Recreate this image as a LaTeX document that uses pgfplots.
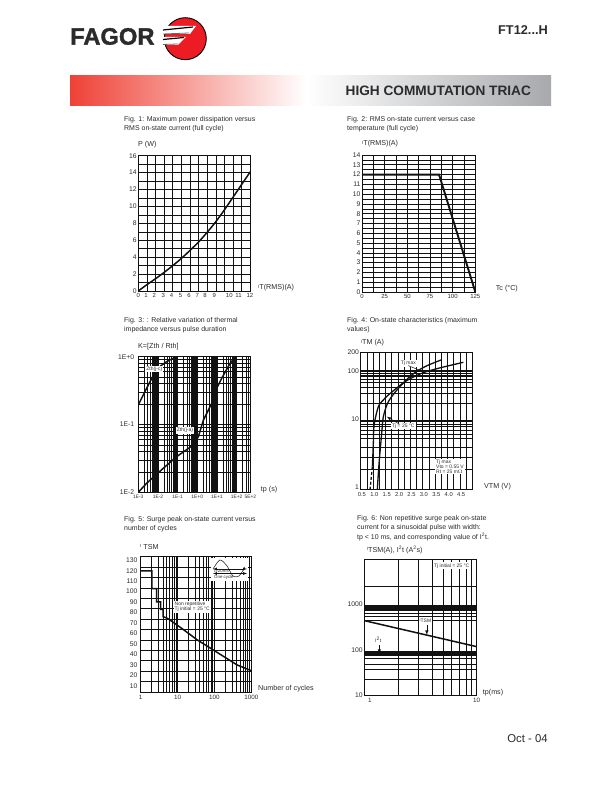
\documentclass[border=0pt]{standalone}
\usepackage{fontspec}
\usepackage{pgfplots}
\pgfplotsset{compat=1.18}
\setmainfont{Liberation Sans}
\newfontfamily\logofont{Liberation Sans}[BoldFeatures={FakeBold=1.6}]
\definecolor{txt}{HTML}{2B2B2B}
\definecolor{ln}{HTML}{111111}
\definecolor{fagorred}{HTML}{ED1C24}
\definecolor{bannerred}{HTML}{EF4136}
\definecolor{bannergray}{HTML}{A7A9AC}
\newcommand{\fs}[1]{\fontsize{#1}{#1}\selectfont}
\newcommand{\smallI}{{\fs{4.6}\raisebox{1.8pt}{I}}}

\tikzset{boxlabel/.style={fill=white,inner sep=1bp,font=\fs{5},text=txt,align=left}}
\pgfplotsset{
  chart/.style={
    scale only axis,
    anchor=south west,
    tick style={draw=none},
    axis line style={line width=0.9bp,ln},
    grid style={line width=0.6bp,ln},
    major grid style={line width=0.6bp,ln},
    minor grid style={line width=0.6bp,ln},
    xticklabel style={font=\fs{6},text=txt,inner sep=2.5bp},
    yticklabel style={font=\fs{6.8},text=txt,inner sep=1.5bp},
    /pgf/number format/assume math mode=true,
    /pgf/number format/1000 sep={},
    minor tick length=0pt,
    major tick length=0pt,
  },
  curve/.style={line width=1.5bp,ln,no markers},
}

\begin{document}
\begin{tikzpicture}
\useasboundingbox (0,0) rectangle (612bp,792bp);

% Fig 1
\begin{axis}[chart,at={(138.3bp,501bp)},width=112bp,height=135.3bp,
  xmin=0,xmax=13,ymin=0,ymax=16,
  ytick={0,2,...,16},minor ytick={1,3,...,15},
  xtick={0,0.89,1.85,2.9,3.87,4.9,5.88,6.85,7.74,8.82,10.56,11.64,12.96},
  xticklabels={0,1,2,3,4,5,6,7,8,9,10,11,12},
  extra x ticks={1,2,3,4,5,6,7,8,9,10,11,12},extra x tick labels={},
  extra x tick style={grid=major},
  yminorgrids,ymajorgrids]
\addplot[curve,smooth] coordinates {(0,0) (1,0.75) (2,1.45) (3,2.2) (4,3.0) (5,3.85) (6,4.8) (7,5.8) (8,6.95) (9,8.2) (10,9.6) (11,11.1) (12,12.6) (13,14.1)};
\end{axis}

% Fig 2
\begin{axis}[chart,at={(362bp,500bp)},width=113.3bp,height=137bp,
  xmin=0,xmax=125,ymin=0,ymax=14,
  xtick={0,25,...,125},minor xtick={12.5,37.5,...,112.5},
  ytick={0,1,...,14},minor ytick={0.5,1.5,...,13.5},
  grid=both]
\addplot[ln,line width=1.9bp,no markers] coordinates {(0,12) (85,12) (125,0)};
\end{axis}

% Fig 3
\begin{axis}[chart,at={(138.3bp,299.7bp)},width=112bp,height=135.6bp,
  xmode=log,ymode=log,xmin=0.001,xmax=500,ymin=0.01,ymax=1,
  log basis x=10,
  xtick={0.001,0.01,0.1,1,10,100,500},
  xticklabels={1E-3,1E-2,1E-1,1E+0,1E+1,1E+2,5E+2},
  xticklabel style={font=\fs{4.9}},
  minor xtick={0.002,0.003,0.004,0.005,0.02,0.03,0.04,0.05,0.06,0.2,0.3,0.4,2,3,4,5,20,30,40,50,60,200,300,400},
  ytick={0.01,0.1,1},yticklabels={1E-2,1E-1,1E+0},
  yticklabel style={inner sep=4bp},
  extra x ticks={0.006,0.0065,0.007,0.0075,0.008,0.0085,0.009,0.0095,0.07,0.075,0.08,0.085,0.09,0.095,0.5,0.55,0.6,0.65,0.7,0.75,0.8,0.85,0.9,0.95,6,6.5,7,7.5,8,8.5,9,9.5,70,75,80,85,90,95},
  extra x tick labels={},
  extra x tick style={grid=major,major grid style={line width=1.2bp,ln}},
  grid=both]
\addplot[curve,smooth] coordinates {(0.001,0.194) (0.00265,0.341) (0.0086,0.636) (0.0277,0.844) (0.09,1)};
\addplot[curve] coordinates {(0.001,0.01) (0.00265,0.0136) (0.0187,0.0226) (0.09,0.0336) (0.632,0.0499) (1.14,0.0662) (2.05,0.116) (5.43,0.205) (8.04,0.305) (17.5,0.48) (46.7,0.798) (84,0.977) (100,1)};
\node[boxlabel] at (axis cs:0.0065,0.658) {Zth(j-c)};
\node[boxlabel] at (axis cs:0.237,0.081) {Zth(j-a)};
\end{axis}

% Fig 4: the printed log scale is not uniform, so y is height above the bottom edge
\begin{axis}[chart,at={(360.7bp,302.3bp)},width=111.6bp,height=137.4bp,
  xmin=0.5,xmax=5,ymin=0,ymax=412,
  xtick={0.5,1,...,4.5},xticklabels={0.5,1.0,1.5,2.0,2.5,3.0,3.5,4.0,4.5},
  minor xtick={0.75,1.25,...,4.75},
  xticklabel style={font=\fs{5.8},xshift=1.2bp},
  ytick={9,211,356,412},yticklabels={1,10,100,200},
  extra y ticks={61,97,127,154,167,179,189,197,204,209,259,289,307,321,331,339,344,349,354,359},
  extra y tick labels={},extra y tick style={grid=major},
  xmajorgrids,xminorgrids]
\addplot[ln,line width=1.3bp,no markers,densely dashed] coordinates {(0.876,0) (0.97,69)};
\addplot[ln,line width=1.3bp,no markers,smooth] coordinates {(0.97,69) (1.01,139) (1.04,194) (1.212,249) (1.414,269) (1.616,284) (2.288,324) (2.96,349) (3.63,364) (4.64,382)};
\addplot[ln,line width=1.3bp,no markers,smooth] coordinates {(1.17,0) (1.24,79) (1.347,169) (1.414,219) (1.616,264) (2.02,304) (2.556,344) (3.094,369) (3.74,389)};
\node[boxlabel] at (axis cs:2.42,379) {Tj max};
\node[boxlabel] at (axis cs:2.22,191) {Tj = 25 °C};
\node[boxlabel] at (axis cs:4.1,69) {Tj max\\Vto = 0.55 V\\Rt = 25 m$\Omega$};
\draw[ln,line width=0.5bp] (axis cs:2.42,372) -- (axis cs:2.85,359);
\draw[-latex,ln,line width=0.5bp] (axis cs:2.05,197) -- (axis cs:1.55,219);
\end{axis}

% Fig 5: grid lines do not fall on the printed labels, hence the two tick sets
\begin{axis}[chart,at={(140.7bp,100bp)},width=110.6bp,height=135.3bp,
  xmode=log,xmin=1,xmax=1000,ymin=4,ymax=133.4,
  xtick={1,10,100,1000},xticklabels={1,10,100,1000},
  xticklabel style={font=\fs{6.3}},
  ytick={10,20,...,130},
  yticklabel style={inner sep=3bp},
  extra y ticks={13.95,23.91,33.86,43.82,53.77,63.72,73.68,83.63,93.58,103.54,113.49,123.45},
  extra y tick labels={},extra y tick style={grid=major},
  xmajorgrids,xminorgrids]
\addplot[curve] coordinates {(1,119.8) (2,119.8) (2,102.9) (2.7,102.9) (2.7,90.1) (3.48,90.1) (3.48,83.1) (4.03,83.1) (4.03,76.1) (5.28,74.5) (8.88,69) (14.9,63.3) (34.3,53.8) (78.9,45.8) (181,37.8) (417,29.8) (1000,24.4)};
\node[boxlabel] at (axis cs:25,85.3) {Non repetitive\\Tj initial = 25 °C};
\end{axis}

% Fig 6
\begin{axis}[chart,at={(364.3bp,96.5bp)},width=112.4bp,height=136bp,
  xmode=log,ymode=log,xmin=1,xmax=10,ymin=10,ymax=9660,
  xtick={1,10},xticklabels={\raisebox{-4bp}{\hspace{11bp}1},10},
  xticklabel style={font=\fs{6.3}},
  ytick={10,100,1000},yticklabels={10,100,1000},
  extra y ticks={2438,967,920,875,832,790,727,635,537,439,95,89,84.5,81.7,79,76.4,73.9,65.7,48.5,36.5,22.8},
  extra y tick labels={},extra y tick style={grid=major,major grid style={line width=0.9bp,ln}},
  xmajorgrids,xminorgrids]
\addplot[curve] coordinates {(1,440) (10,118)};
\node[boxlabel] at (axis cs:5.99,7030) {Tj initial = 25 °C};
\node[boxlabel] at (axis cs:3.5,445) {{\fs{3.6}\raisebox{1pt}{I}}TSM};
\node[boxlabel] at (axis cs:1.33,171) {I\textsuperscript{2}t};
\draw[-latex,ln,line width=0.6bp] (axis cs:3.6,350) -- (axis cs:3.6,213);
\draw[-latex,ln,line width=0.6bp] (axis cs:1.36,129) -- (axis cs:1.36,81.7);
\end{axis}

% page furniture, in page pixels measured from the top left
\begin{scope}[x=1bp,y=-1bp,shift={(0,792bp)}]
  % header
  \shade[left color=bannerred,right color=white] (70,76) rectangle (306,106);
  \shade[left color=white,right color=bannergray] (306,76) rectangle (551,106);
  \node[anchor=west,inner sep=0,font=\fs{13.7}\bfseries,text=txt] at (345.5,91) {HIGH COMMUTATION TRIAC};
  \node[anchor=east,inner sep=0,font=\fs{12.8}\bfseries,text=txt] at (548,30) {FT12...H};
  \node[anchor=west,inner sep=0,font=\logofont\fs{23.8}\bfseries,text=txt] at (70,36.5) {FAGOR};
  \fill[fagorred] (185.3,38.7) circle (21);
  \draw[black,line width=0.9bp] (185.3,38.7) circle (21);
  \fill[white] (161,26) -- (196,26) -- (190,34) -- (161,34) -- cycle;
  \fill[white] (161,37) -- (186,37) -- (178,45) -- (161,45) -- cycle;
  \draw[black,line width=1.2bp] (163,30) -- (193,27);
  \draw[black,line width=1.2bp] (163,39.5) -- (184,37.5);
  \draw[black!60,line width=0.8bp] (163,34) -- (189,33);
  \draw[black!60,line width=0.8bp] (163,44.5) -- (178,44);
  \node[anchor=east,inner sep=0,font=\fs{11.4},text=txt] at (548,739) {Oct - 04};

  % captions
  \begin{scope}[every node/.style={anchor=west,inner sep=0,font=\fs{7},text=txt}]
    \node at (124,119.5) {Fig. 1: Maximum power dissipation versus};
    \node at (124,129) {RMS on-state current (full cycle)};
    \node at (347,119.5) {Fig. 2: RMS on-state current versus case};
    \node at (347,129) {temperature (full cycle)};
    \node at (124,320.5) {Fig. 3: : Relative variation of thermal};
    \node at (124,330) {impedance versus pulse duration};
    \node at (347,320.5) {Fig. 4: On-state characteristics (maximum};
    \node at (347,330) {values)};
    \node at (124,520) {Fig. 5: Surge peak on-state current versus};
    \node at (124,529) {number of cycles};
    \node at (357,519) {Fig. 6: Non repetitive surge peak on-state};
    \node at (357,528) {current for a sinusoidal pulse with width:};
    \node at (357,537) {tp < 10 ms, and corresponding value of I\textsuperscript{2}t.};
  \end{scope}
  % axis titles
  \begin{scope}[every node/.style={anchor=west,inner sep=0,font=\fs{7.2},text=txt}]
    \node at (138,145) {P (W)};
    \node at (258,288) {\smallI T(RMS)(A)};
    \node at (362,144) {\smallI T(RMS)(A)};
    \node at (495.7,289) {Tc (°C)};
    \node at (138,347) {K=[Zth / Rth]};
    \node at (260.7,490) {tp (s)};
    \node at (360.7,343) {\smallI TM (A)};
    \node at (484,487) {VTM (V)};
    \node at (140,547) {\smallI\ TSM};
    \node at (258,689) {Number of cycles};
    \node at (366.7,550) {\smallI TSM(A), I\textsuperscript{2}t (A\textsuperscript{2}s)};
    \node at (482.7,692.7) {tp(ms)};
  \end{scope}

  % inset of Fig 5
  \fill[white] (211,558.5) rectangle (248.3,581);
  \draw[ln,line width=0.5bp] plot[smooth] coordinates {(213,569) (220,560) (227,566) (233,576) (239,576) (245,567)};
  \draw[latex-latex,ln,line width=0.4bp] (213,569) -- (247,569);
  \draw[latex-latex,ln,line width=0.4bp] (213,573.5) -- (247,573.5);
  \node[anchor=west,inner sep=0,font=\fs{4.4},text=txt] at (214,570.8) {t=20ms};
  \node[anchor=west,inner sep=0,font=\fs{4.4},text=txt] at (214,577.5) {One cycle};
\end{scope}
\end{tikzpicture}
\end{document}
